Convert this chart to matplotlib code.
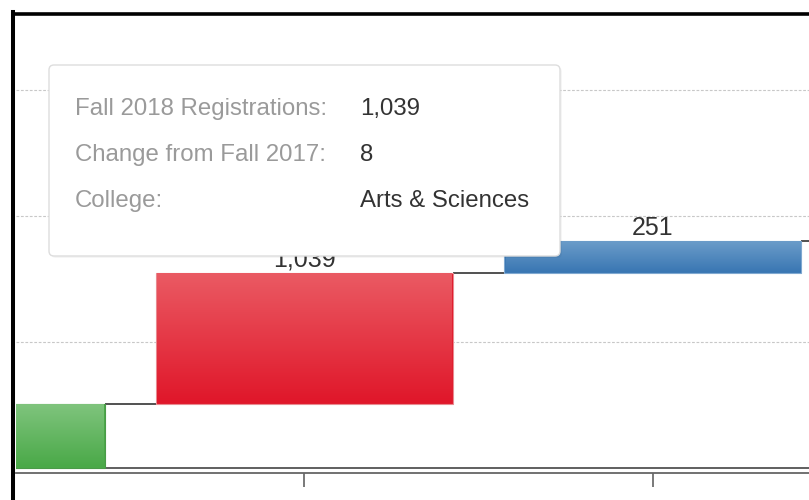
import matplotlib.pyplot as plt
import numpy as np
from matplotlib.patches import FancyBboxPatch
from matplotlib.lines import Line2D
from matplotlib.colors import LinearSegmentedColormap

# datos del waterfall (solo se ve una parte del grafico)
categorias = [0, 1, 2]
valores = [510, 1039, 251]
etiquetas = ["", "1,039", "251"]
colores_arriba = ["#7fc47d", "#ea5a63", "#6b9cc9"]
colores_abajo = ["#4aa948", "#e0172a", "#3a77b3"]
colores_borde = ["#4a9a48", "#e88a90", "#7fa8d0"]

# tooltip
tooltip_campos = ["Fall 2018 Registrations:", "Change from Fall 2017:", "College:"]
tooltip_valores = ["1,039", "8", "Arts & Sciences"]

plt.rcParams['font.family'] = ['Liberation Sans', 'DejaVu Sans']

fig = plt.figure(figsize=(8.09, 5.0), dpi=100)
ax = fig.add_axes([16 / 809, 27 / 500, 793 / 809, 458 / 500])

ancho = 0.853
base = np.concatenate([[0], np.cumsum(valores)[:-1]])
tope = base + np.array(valores)

for i, c in enumerate(categorias):
    ax.bar(c, valores[i], bottom=base[i], width=ancho, color=colores_abajo[i],
           edgecolor=colores_borde[i], linewidth=0.8, zorder=3)
    cmap = LinearSegmentedColormap.from_list("g", [colores_arriba[i], colores_abajo[i]])
    grad = np.linspace(0, 1, 100).reshape(-1, 1)
    ax.imshow(grad, cmap=cmap, aspect='auto', zorder=3.5, origin='upper',
              extent=[c - ancho / 2 + 0.004, c + ancho / 2 - 0.004, base[i] + 6, tope[i] - 6])
    if etiquetas[i]:
        ax.text(c, tope[i] + 52, etiquetas[i], ha='center', va='baseline',
                fontsize=18, color="#333333", zorder=4)

# conectores
for i in range(len(categorias)):
    x_fin = categorias[i + 1] - ancho / 2 if i + 1 < len(categorias) else 3
    ax.hlines(tope[i], categorias[i] + ancho / 2, x_fin, color="#333333", linewidth=1.2, zorder=2)
ax.axhline(0, color="#444444", linewidth=1.2, zorder=2)

ax.set_xlim(0.1716, 2.4487)
ax.set_ylim(-39.7, 3595)
ax.set_yticks([1000, 2000, 3000])
ax.yaxis.grid(True, color="#c8c8c8", linestyle=(0, (2.5, 1.5)), linewidth=0.8)
ax.tick_params(axis='y', length=0, labelleft=False)
ax.set_xticks([1, 2])
ax.tick_params(axis='x', length=10, width=1.1, color="#555555", labelbottom=False)
for s in ['top', 'left', 'right']:
    ax.spines[s].set_visible(False)
ax.spines['bottom'].set_color("#666666")
ax.spines['bottom'].set_linewidth(1.3)

# capa en pixeles para el marco y el tooltip
capa = fig.add_axes([0, 0, 1, 1], facecolor='none')
capa.set_xlim(0, 809)
capa.set_ylim(500, 0)
capa.axis('off')

sombra = FancyBboxPatch((51, 67), 511, 191, boxstyle="round,pad=0,rounding_size=5",
                        facecolor="#000000", alpha=0.04, edgecolor='none', zorder=9)
capa.add_patch(sombra)
caja = FancyBboxPatch((49, 65), 511, 191, boxstyle="round,pad=0,rounding_size=5",
                      facecolor="white", edgecolor="#dddddd", linewidth=1.0, zorder=10)
capa.add_patch(caja)
for k in range(len(tooltip_campos)):
    y = 115 + 46 * k
    capa.text(75, y, tooltip_campos[k], fontsize=17.3, color="#9a9a9a", va='baseline', zorder=11)
    capa.text(360, y, tooltip_valores[k], fontsize=17.3, color="#333333", va='baseline', zorder=11)

# marco negro del recorte
capa.add_line(Line2D([13, 809], [13.5, 13.5], color="black", linewidth=2.6, zorder=12))
capa.add_line(Line2D([13, 13], [12, 500], color="black", linewidth=2.9, zorder=12))

fig.savefig("out.png", dpi=100)
